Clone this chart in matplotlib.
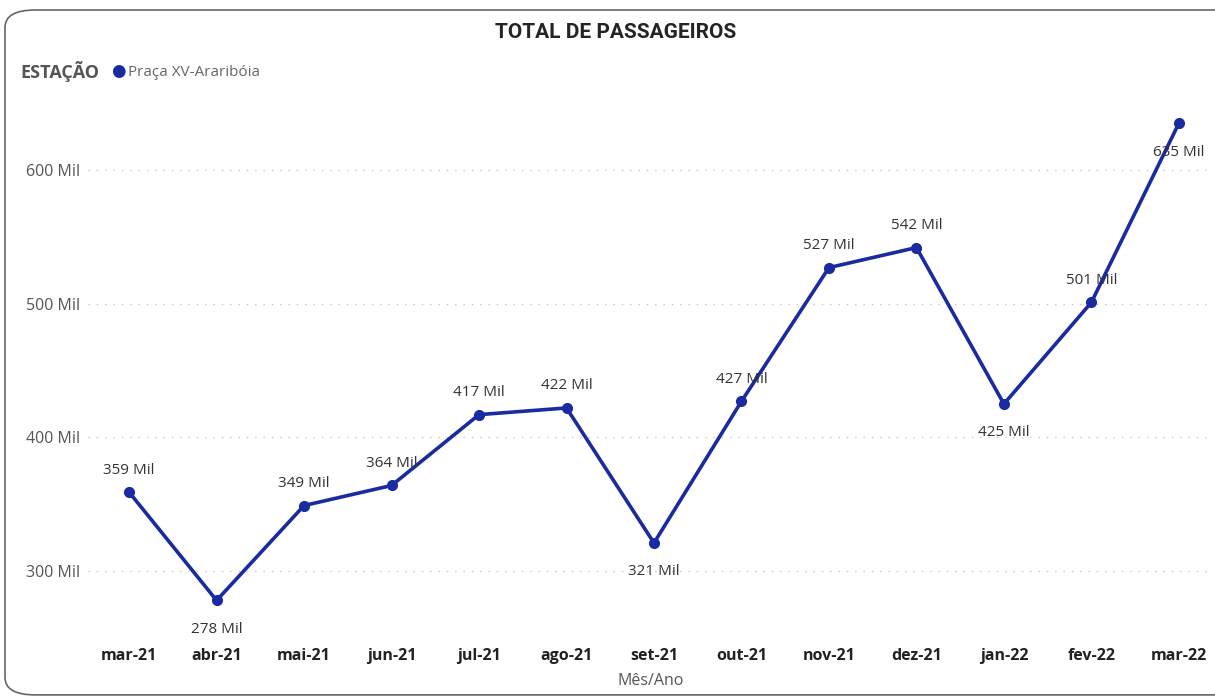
import matplotlib.pyplot as plt
from matplotlib.patches import FancyBboxPatch

# Dados
meses = ["mar-21", "abr-21", "mai-21", "jun-21", "jul-21", "ago-21", "set-21",
         "out-21", "nov-21", "dez-21", "jan-22", "fev-22", "mar-22"]
passageiros = [359, 278, 349, 364, 417, 422, 321, 427, 527, 542, 425, 501, 635]  # mil
rotulo_abaixo = [False, True, False, False, False, False, True,
                 False, False, False, True, False, True]
yticks = [300, 400, 500, 600]

cor_linha = '#1a2aa0'
plt.rcParams['font.family'] = ['Open Sans', 'DejaVu Sans']

fig = plt.figure(figsize=(12.15, 6.97), dpi=100)

# Moldura arredondada
frame = FancyBboxPatch((5 / 1215, 0.003), 1.2, 1 - 10 / 697 - 0.003,
                       boxstyle="round,pad=0,rounding_size=0.025",
                       transform=fig.transFigure, facecolor='white',
                       edgecolor='#666666', linewidth=1.2, clip_on=False, zorder=-10)
fig.patches.append(frame)

ax = fig.add_axes([88 / 1215, 57 / 697, 1125 / 1215, 540 / 697])
ax.set_facecolor('none')
x = list(range(len(meses)))
ax.plot(x, passageiros, color=cor_linha, linewidth=2.6, marker='o', markersize=7)

for xi, v, abaixo in zip(x, passageiros, rotulo_abaixo):
    off = -29 if abaixo else 22
    ax.annotate(f"{v} Mil", (xi, v), xytext=(0, off), textcoords='offset pixels',
                ha='center', va='center', fontsize=11, color='#333333')

ax.set_xlim(-0.47, 12.39)
ax.set_ylim(248.4, 652.4)
ax.set_yticks(yticks)
ax.set_yticklabels([f"{t} Mil" for t in yticks], fontsize=11.5, color='#555555')
ax.set_xticks(x)
ax.set_xticklabels(meses, fontsize=11.5, fontweight='bold', color='#222222')
ax.tick_params(length=0)
ax.tick_params(axis='y', pad=6)
ax.tick_params(axis='x', pad=6)
ax.grid(axis='y', linestyle=(0, (1, 5)), color='#c8c8c8', linewidth=1)
ax.set_axisbelow(True)
for s in ax.spines.values():
    s.set_visible(False)

ax.set_xlabel("Mês/Ano", fontsize=11.5, color='#555555', labelpad=6)

fig.text(616 / 1215, 1 - 32 / 697, "TOTAL DE PASSAGEIROS", ha='center', va='center',
         fontsize=15, fontweight='bold', color='#252423', family='Roboto')
fig.text(20 / 1215, 1 - 72 / 697, "ESTAÇÃO", ha='left', va='center',
         fontsize=13, fontweight='bold', color='#555555')
fig.text(118 / 1215, 1 - 72 / 697, "●", ha='center', va='center',
         fontsize=12, color=cor_linha)
fig.text(128 / 1215, 1 - 72 / 697, "Praça XV-Araribóia", ha='left', va='center',
         fontsize=11, color='#666666')

fig.savefig("out.png", dpi=100)
